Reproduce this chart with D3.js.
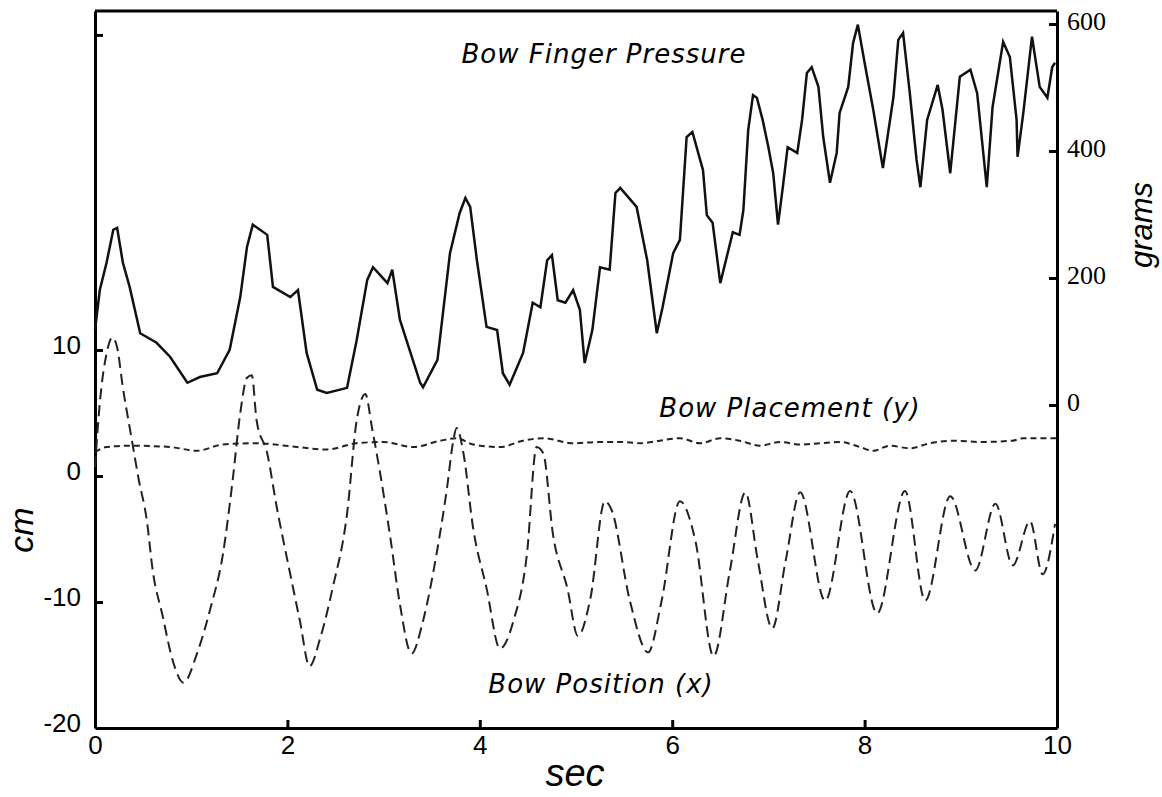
<!DOCTYPE html>
<html>
<head>
<meta charset="utf-8">
<script src="https://cdn.jsdelivr.net/npm/d3@7"></script>
<style>
  body { margin: 0; background: #fff; }
  .axis path, .axis line { stroke: #000; stroke-width: 3; }
  .axis text { fill: #000; }
  .left text, .bottom text { font-family: "Liberation Sans", Arial, sans-serif; font-size: 26px; }
  .right text { font-family: "Liberation Serif", "Times New Roman", serif; font-size: 26px; }
  .series-label { font-family: "DejaVu Sans", Verdana, sans-serif; font-style: italic; font-size: 26px; letter-spacing: 1px; }
  .axis-title { font-family: "Liberation Sans", Arial, sans-serif; font-style: italic; }
</style>
</head>
<body>
<svg id="chart" width="1162" height="797"></svg>
<script>
// bow finger pressure (grams, right axis)
const pressureT = [0, 0.05, 0.12, 0.19, 0.23, 0.29, 0.36, 0.47, 0.64, 0.78, 0.96, 1.09, 1.27, 1.40, 1.51, 1.58, 1.64, 1.79, 1.85, 2.03,
  2.11, 2.20, 2.31, 2.41, 2.62, 2.72, 2.83, 2.89, 3.04, 3.09, 3.17, 3.38, 3.41, 3.56, 3.69, 3.79, 3.85, 3.90, 3.97, 4.07,
  4.18, 4.24, 4.31, 4.45, 4.55, 4.63, 4.70, 4.75, 4.81, 4.89, 4.97, 5.04, 5.09, 5.17, 5.25, 5.35, 5.41, 5.46, 5.63, 5.74,
  5.84, 5.90, 6.01, 6.08, 6.15, 6.21, 6.32, 6.36, 6.42, 6.50, 6.63, 6.70, 6.74, 6.79, 6.84, 6.88, 6.94, 7.00, 7.05, 7.10,
  7.15, 7.20, 7.30, 7.35, 7.40, 7.45, 7.52, 7.57, 7.64, 7.71, 7.74, 7.83, 7.88, 7.93, 8.00, 8.09, 8.19, 8.30, 8.35, 8.40,
  8.47, 8.54, 8.58, 8.65, 8.76, 8.81, 8.89, 8.99, 9.10, 9.17, 9.27, 9.33, 9.44, 9.51, 9.58, 9.59, 9.65, 9.74, 9.82, 9.90,
  9.95, 9.98];
const pressureG = [118, 181, 224, 276, 279, 224, 186, 113, 98, 76, 35, 44, 50, 87, 170, 249, 284, 268, 186, 170,
  181, 82, 24, 19, 27, 102, 197, 217, 192, 213, 134, 35, 28, 71, 239, 302, 326, 312, 228, 123,
  118, 50, 32, 82, 161, 154, 228, 236, 165, 161, 181, 150, 66, 118, 217, 213, 334, 342, 312, 228,
  113, 154, 239, 260, 422, 430, 370, 299, 287, 192, 272, 268, 307, 433, 488, 484, 449, 406, 365, 284,
  343, 406, 397, 449, 523, 532, 501, 422, 350, 397, 460, 501, 570, 599, 539, 465, 373, 485, 575, 586,
  491, 386, 343, 449, 504, 465, 365, 517, 528, 491, 343, 469, 572, 548, 449, 391, 460, 580, 501, 484,
  532, 539];

// bow position x (cm, left axis)
const positionT = [0, 0.05, 0.12, 0.18, 0.23, 0.29, 0.38, 0.45, 0.54, 0.60, 0.70, 0.81, 0.92, 1.06, 1.20, 1.33, 1.43, 1.51, 1.58, 1.63,
  1.68, 1.79, 1.89, 2.03, 2.13, 2.23, 2.34, 2.47, 2.62, 2.72, 2.81, 2.88, 2.96, 3.07, 3.17, 3.29, 3.41, 3.55, 3.66, 3.72,
  3.76, 3.83, 3.93, 4.07, 4.21, 4.35, 4.49, 4.59, 4.66, 4.76, 4.91, 5.02, 5.15, 5.30, 5.37, 5.56, 5.75, 5.89, 6.08, 6.24,
  6.43, 6.60, 6.76, 6.89, 7.04, 7.18, 7.33, 7.59, 7.85, 8.13, 8.42, 8.63, 8.89, 9.15, 9.36, 9.54, 9.72, 9.85, 9.98];
const positionCm = [0.7, 5.8, 9.7, 11.0, 10.2, 7.0, 3.0, -0.1, -3.6, -7.5, -11.0, -14.7, -16.4, -14.1, -10.5, -6.2, -0.4, 5.0, 7.8, 8.0,
  4.4, 1.8, -2.5, -7.8, -11.5, -15.1, -12.9, -8.9, -3.0, 4.4, 6.5, 3.8, 0.4, -4.9, -10.2, -14.1, -11.5, -6.2, -0.9, 2.6,
  3.8, 1.8, -4.1, -8.9, -13.7, -11.5, -6.2, 2.3, 1.8, -4.6, -8.9, -12.7, -9.7, -2.0, -2.7, -9.9, -14.0, -9.9, -2.0, -5.1,
  -14.3, -7.5, -1.3, -6.7, -12.1, -6.7, -1.3, -9.9, -1.2, -10.9, -1.2, -9.9, -1.6, -7.5, -2.2, -7.1, -3.6, -7.8, -3.8];

// bow placement y (cm, left axis)
const placementT = [0, 0.12, 0.38, 0.78, 1.06, 1.33, 1.68, 2.10, 2.41, 2.72, 2.99, 3.31, 3.59, 3.76, 3.93, 4.21, 4.45, 4.66, 4.97, 5.25,
  5.46, 5.67, 5.87, 6.08, 6.29, 6.50, 6.70, 6.91, 7.12, 7.33, 7.54, 7.74, 7.95, 8.09, 8.26, 8.47, 8.68, 8.92, 9.20, 9.54,
  9.65, 9.93, 10];
const placementCm = [1.9, 2.3, 2.4, 2.3, 2.0, 2.5, 2.6, 2.3, 2.1, 2.6, 2.7, 2.3, 2.8, 3.0, 2.5, 2.3, 2.8, 3.0, 2.6, 2.7,
  2.7, 2.6, 2.8, 3.0, 2.6, 3.0, 2.8, 2.4, 2.7, 2.5, 2.6, 2.7, 2.3, 2.0, 2.4, 2.2, 2.6, 2.8, 2.7, 2.8,
  3.0, 3.0, 3.0];

const secTicks = [0, 2, 4, 6, 8, 10];
const cmTicks = [-20, -10, 0, 10, 35];
const cmTickLabels = ["-20", "-10", "0", "10", ""];
const gramTicks = [0, 200, 400, 600];

const svg = d3.select("#chart");
const plot = {left: 95, right: 1057, top: 11, bottom: 728};

const x = d3.scaleLinear().domain([0, 10]).range([plot.left, plot.right]);
const yCm = d3.scaleLinear().domain([-20, 36.9]).range([plot.bottom, plot.top]);
const yG = d3.scaleLinear().domain([-508.7, 620.5]).range([plot.bottom, plot.top]);

// frame top
svg.append("line")
  .attr("x1", plot.left).attr("x2", plot.right)
  .attr("y1", plot.top).attr("y2", plot.top)
  .attr("stroke", "#000").attr("stroke-width", 3);

const gLeft = svg.append("g").attr("class", "axis left")
  .attr("transform", `translate(${plot.left},0)`)
  .call(d3.axisLeft(yCm).tickValues(cmTicks).tickSize(-8).tickPadding(14)
    .tickFormat((d, i) => cmTickLabels[i]).tickSizeOuter(0));
gLeft.selectAll(".tick text").attr("dy", "0.15em");
gLeft.selectAll(".tick").filter(d => d === -20).select("line").remove();

const gRight = svg.append("g").attr("class", "axis right")
  .attr("transform", `translate(${plot.right},0)`)
  .call(d3.axisRight(yG).tickValues(gramTicks).tickSize(-8).tickPadding(10).tickSizeOuter(0));
gRight.selectAll(".tick text").attr("dy", "0.2em");

const gBottom = svg.append("g").attr("class", "axis bottom")
  .attr("transform", `translate(0,${plot.bottom})`)
  .call(d3.axisBottom(x).tickValues(secTicks).tickSize(-8).tickPadding(8).tickSizeOuter(0));
gBottom.selectAll(".tick").filter(d => d === 0 || d === 10).select("line").remove();

// series
const pressure = pressureT.map((t, i) => [t, pressureG[i]]);
const position = positionT.map((t, i) => [t, positionCm[i]]);
const placement = placementT.map((t, i) => [t, placementCm[i]]);

svg.append("path")
  .datum(placement)
  .attr("fill", "none").attr("stroke", "#222").attr("stroke-width", 2)
  .attr("stroke-dasharray", "6,4")
  .attr("d", d3.line().x(d => x(d[0])).y(d => yCm(d[1])).curve(d3.curveMonotoneX));

svg.append("path")
  .datum(position)
  .attr("fill", "none").attr("stroke", "#222").attr("stroke-width", 2)
  .attr("stroke-dasharray", "11,6")
  .attr("d", d3.line().x(d => x(d[0])).y(d => yCm(d[1])).curve(d3.curveMonotoneX));

svg.append("path")
  .datum(pressure)
  .attr("fill", "none").attr("stroke", "#111").attr("stroke-width", 2.5)
  .attr("d", d3.line().x(d => x(d[0])).y(d => yG(d[1])));

// labels
svg.append("text").attr("class", "series-label")
  .attr("x", 604).attr("y", 63).attr("text-anchor", "middle")
  .text("Bow Finger Pressure");
svg.append("text").attr("class", "series-label")
  .attr("x", 790).attr("y", 417).attr("text-anchor", "middle")
  .text("Bow Placement (y)");
svg.append("text").attr("class", "series-label")
  .attr("x", 601).attr("y", 693).attr("text-anchor", "middle")
  .text("Bow Position (x)");

svg.append("text").attr("class", "axis-title")
  .attr("x", 575).attr("y", 786).attr("text-anchor", "middle")
  .style("font-size", "38px")
  .text("sec");
svg.append("text").attr("class", "axis-title")
  .attr("transform", "translate(33,530) rotate(-90)").attr("text-anchor", "middle")
  .style("font-size", "34px")
  .text("cm");
svg.append("text").attr("class", "axis-title")
  .attr("transform", "translate(1152,225) rotate(-90)").attr("text-anchor", "middle")
  .style("font-size", "31px")
  .text("grams");
</script>
</body>
</html>
